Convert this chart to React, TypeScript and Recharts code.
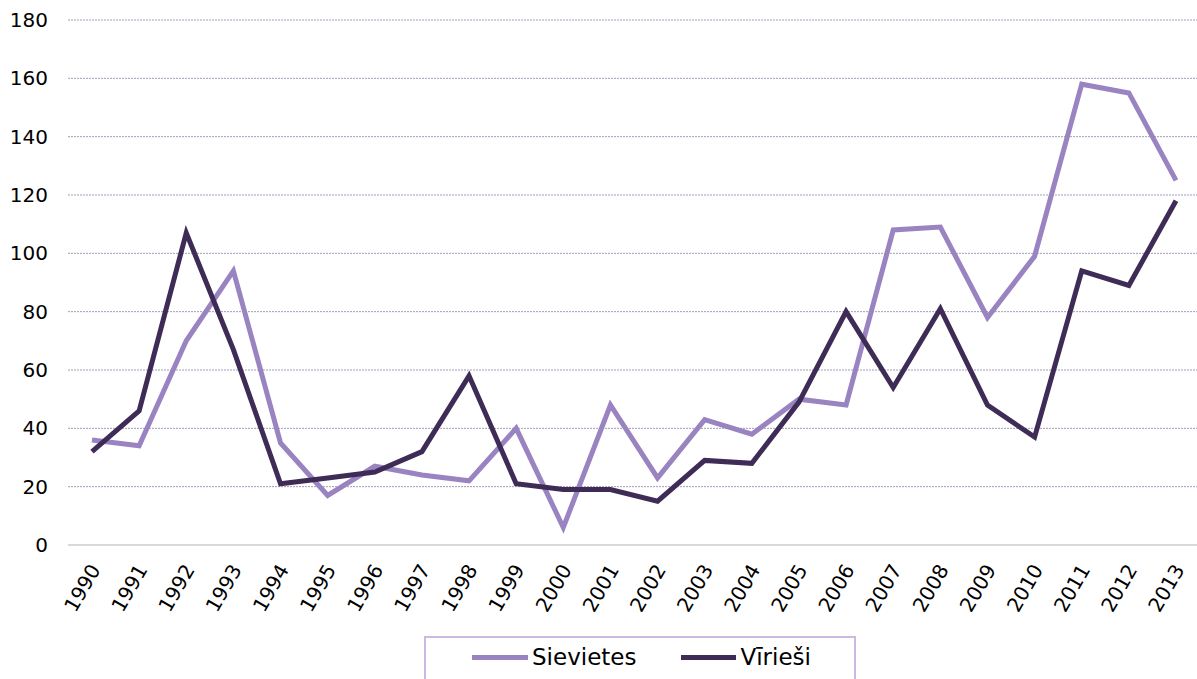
import React from "react";
import { LineChart, Line, XAxis, YAxis, CartesianGrid, Legend, ReferenceLine } from "recharts";

const years = ["1990","1991","1992","1993","1994","1995","1996","1997","1998","1999","2000","2001","2002","2003","2004","2005","2006","2007","2008","2009","2010","2011","2012","2013"];
const sievietes = [36,34,70,94,35,17,27,24,22,40,6,48,23,43,38,50,48,108,109,78,99,158,155,125];
const virriesi = [32,46,107,67,21,23,25,32,58,21,19,19,15,29,28,49,80,54,81,48,37,94,89,118];
const yTicks = [0,20,40,60,80,100,120,140,160,180];

const data = years.map((y, i) => ({ year: y, Sievietes: sievietes[i], "Vīrieši": virriesi[i] }));

const LIGHT = "#9a83c1";
const DARK = "#3e2c56";
const FONT = "'DejaVu Sans', Verdana, sans-serif";

const XTick = (props: any) => {
  const { x, y, payload } = props;
  return (
    <g transform={`translate(${x + 3},${y + 13})`}>
      <text x={0} y={0} textAnchor="end" dominantBaseline="central" transform="rotate(-60)" fontSize={20} fill="#000" fontFamily={FONT}>
        {payload.value}
      </text>
    </g>
  );
};

const LegendContent = () => (
  <div style={{ width: 432, height: 60, border: "2px solid #cdb8e0", borderBottom: "none", boxSizing: "border-box", display: "flex", alignItems: "flex-start", paddingTop: 6, fontFamily: FONT, fontSize: 23, color: "#000" }}>
    <div style={{ display: "flex", alignItems: "center", marginLeft: 46 }}>
      <div style={{ width: 56, height: 5, background: LIGHT, marginRight: 4 }} />
      <span>Sievietes</span>
    </div>
    <div style={{ display: "flex", alignItems: "center", marginLeft: 45 }}>
      <div style={{ width: 55, height: 5, background: DARK, marginRight: 4 }} />
      <span>Vīrieši</span>
    </div>
  </div>
);

export default function App() {
  return (
    <div style={{ position: "fixed", left: 0, top: 0, width: 1197, height: 679, overflow: "hidden", background: "#fff" }}>
      <LineChart width={1200} height={679} data={data} margin={{ top: 20, right: 0, bottom: 0, left: 0 }}>
        <CartesianGrid vertical={false} stroke="#a39bb5" strokeDasharray="2 1" strokeWidth={1} />
        <XAxis dataKey="year" interval={0} tickLine={false} axisLine={false} height={134} padding={{ left: 24, right: 24 }} tick={<XTick />} />
        <YAxis domain={[0, 180]} ticks={yTicks} width={68} axisLine={false} tickLine={false} tick={{ fontSize: 20, fill: "#000", fontFamily: FONT, dx: -12 }} />
        <ReferenceLine y={0} stroke="#d9d9d9" strokeWidth={2} />
        <Legend layout="horizontal" verticalAlign="middle" align="center" content={<LegendContent />} wrapperStyle={{ position: "absolute", top: 636, left: 424, width: 432, height: 60 }} />
        <Line type="linear" dataKey="Sievietes" stroke={LIGHT} strokeWidth={5} dot={false} isAnimationActive={false} />
        <Line type="linear" dataKey="Vīrieši" stroke={DARK} strokeWidth={5} dot={false} isAnimationActive={false} />
      </LineChart>
    </div>
  );
}
